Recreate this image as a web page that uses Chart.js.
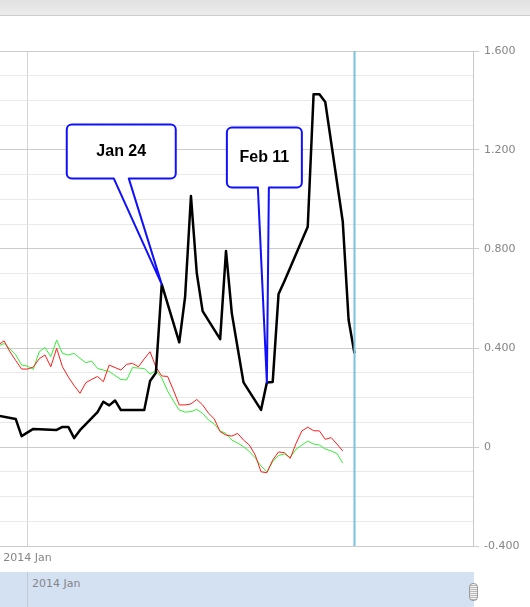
<!DOCTYPE html>
<html>
<head>
<meta charset="utf-8">
<title>Stock comparison</title>
<script src="https://cdn.jsdelivr.net/npm/chart.js@4.4.1/dist/chart.umd.min.js"></script>
<style>
  html, body { margin:0; padding:0; background:#fff; }
  #wrap { position:relative; width:530px; height:607px; overflow:hidden; font-family:"DejaVu Sans", Verdana, sans-serif; }
  #topbar { position:absolute; left:0; top:0; width:530px; height:15px; background:linear-gradient(#e1e1e1, #ececec); border-bottom:1px solid #cdcdcd; }
  #chart { position:absolute; left:0; top:0; }
  #scroll { position:absolute; left:0; top:572px; width:474px; height:35px; background:#d3e1f3; }
  #scroll .grid { position:absolute; left:27px; top:0; width:1px; height:35px; background:#c2c8d0; }
  #scroll .lbl { position:absolute; left:32px; top:5px; font-size:11px; color:#858585; }
  #scroll .handle { position:absolute; left:469px; top:11px; width:7px; height:16px; border:1px solid #9a9a9a; border-radius:4px;
    background:repeating-linear-gradient(#f2f2f2 0 1px, #b9b9b9 1px 2px); }
</style>
</head>
<body>
<div id="wrap">
  <div id="topbar"></div>
  <canvas id="chart" width="530" height="607"></canvas>
  <div id="scroll"><div class="grid"></div><div class="lbl">2014 Jan</div><div class="handle"></div></div>
</div>
<script>
// ---- data ----
const BLACK_DATES = [
  '2013-12-27','2013-12-30','2013-12-31','2014-01-02','2014-01-03','2014-01-06','2014-01-07','2014-01-08',
  '2014-01-09','2014-01-10','2014-01-13','2014-01-14','2014-01-15','2014-01-16','2014-01-17','2014-01-21',
  '2014-01-22','2014-01-23','2014-01-24','2014-01-27','2014-01-28','2014-01-29','2014-01-30','2014-01-31',
  '2014-02-03','2014-02-04','2014-02-05','2014-02-06','2014-02-07','2014-02-10','2014-02-11','2014-02-12',
  '2014-02-13','2014-02-14','2014-02-18','2014-02-19','2014-02-20','2014-02-21','2014-02-24','2014-02-25',
  '2014-02-26'
];
const BLACK_VALUES = [
  0.127, 0.113, 0.044, 0.073, 0.072, 0.069, 0.081, 0.081,
  0.036, 0.068, 0.141, 0.183, 0.168, 0.188, 0.149, 0.149,
  0.267, 0.300, 0.657, 0.423, 0.607, 1.014, 0.702, 0.549,
  0.436, 0.792, 0.540, 0.400, 0.261, 0.150, 0.261, 0.263,
  0.618, 0.670, 0.890, 1.425, 1.425, 1.394, 0.910, 0.513,
  0.379
];

// red and green are daily series starting on this date
const DAILY_START = '2013-12-27';
const RED_VALUES = [
  0.412, 0.429, 0.385, 0.349, 0.315, 0.315, 0.323, 0.356, 0.372, 0.324,
  0.399, 0.324, 0.283, 0.248, 0.217, 0.260, 0.273, 0.285, 0.264, 0.331,
  0.321, 0.311, 0.334, 0.338, 0.324, 0.356, 0.385, 0.323, 0.287, 0.285,
  0.230, 0.170, 0.170, 0.174, 0.192, 0.170, 0.137, 0.113, 0.062, 0.048,
  0.044, 0.055, 0.028, 0.008, -0.032, -0.100, -0.104, -0.053, -0.020, -0.023,
  -0.046, 0.015, 0.065, 0.080, 0.066, 0.065, 0.031, 0.038, 0.012, -0.016
];
const GREEN_VALUES = [
  0.408, 0.418, 0.396, 0.372, 0.331, 0.327, 0.314, 0.384, 0.402, 0.365,
  0.432, 0.378, 0.372, 0.378, 0.358, 0.341, 0.347, 0.317, 0.311, 0.305,
  0.289, 0.273, 0.271, 0.321, 0.319, 0.317, 0.295, 0.309, 0.279, 0.226,
  0.186, 0.149, 0.141, 0.143, 0.152, 0.136, 0.109, 0.093, 0.065, 0.055,
  0.028, 0.016, 0.001, -0.018, -0.044, -0.077, -0.100, -0.059, -0.034, -0.028,
  -0.042, -0.009, 0.008, 0.024, 0.012, 0.008, -0.008, -0.016, -0.026, -0.065
];

const Y_LABELLED = [-0.4, 0, 0.4, 0.8, 1.2, 1.6];
const X_TICK_DATE = '2014-01-01';
const X_TICK_LABEL = '2014 Jan';
const CURSOR_DATE = '2014-02-26';
const X_RANGE = [-4.7, 76.3];   // visible window, days from 2014-01-01

// ---- helpers ----
function dayIndex(s) {
  const [y, m, d] = s.split('-').map(Number);
  return (Date.UTC(y, m - 1, d) - Date.UTC(2014, 0, 1)) / 864e5;
}
const isMajor = v => Y_LABELLED.some(t => Math.abs(t - v) < 1e-6);

const blackData = BLACK_DATES.map((d, i) => ({ x: dayIndex(d), y: BLACK_VALUES[i] }));
const dailyData = vals => vals.map((v, i) => ({ x: dayIndex(DAILY_START) + i, y: v }));

// blue cursor line at the last date
const cursorPlugin = {
  id: 'cursor',
  afterDatasetsDraw(chart) {
    const { ctx, chartArea, scales } = chart;
    const px = Math.round(scales.x.getPixelForValue(dayIndex(CURSOR_DATE))) + 0.5;
    ctx.save();
    ctx.strokeStyle = '#7cc2de';
    ctx.lineWidth = 2;
    ctx.beginPath();
    ctx.moveTo(px, chartArea.top);
    ctx.lineTo(px, chartArea.bottom);
    ctx.stroke();
    ctx.restore();
  }
};

// speech-bubble labels pointing at points of the black series
const calloutPlugin = {
  id: 'callouts',
  afterDatasetsDraw(chart, args, opts) {
    const { ctx, scales: { x, y } } = chart;
    opts.items.forEach(item => {
      const i = BLACK_DATES.indexOf(item.date);
      const tx = x.getPixelForValue(dayIndex(item.date));
      const ty = y.getPixelForValue(BLACK_VALUES[i]);
      const [dl, dt, w, h] = item.box;
      const l = tx + dl, t = ty + dt, b = t + h, r = 5;
      const bl = tx + item.base[0], br = tx + item.base[1];
      ctx.save();
      ctx.beginPath();
      ctx.moveTo(l + r, t);
      ctx.lineTo(l + w - r, t);
      ctx.arcTo(l + w, t, l + w, t + r, r);
      ctx.lineTo(l + w, b - r);
      ctx.arcTo(l + w, b, l + w - r, b, r);
      ctx.lineTo(br, b);
      ctx.lineTo(tx, ty);
      ctx.lineTo(bl, b);
      ctx.lineTo(l + r, b);
      ctx.arcTo(l, b, l, b - r, r);
      ctx.lineTo(l, t + r);
      ctx.arcTo(l, t, l + r, t, r);
      ctx.closePath();
      ctx.fillStyle = '#fff';
      ctx.fill();
      ctx.lineWidth = 2;
      ctx.lineJoin = 'round';
      ctx.strokeStyle = '#1010ff';
      ctx.stroke();
      ctx.fillStyle = '#000';
      ctx.font = 'bold 16px "Liberation Sans", Arial, sans-serif';
      ctx.textAlign = 'center';
      ctx.textBaseline = 'middle';
      ctx.fillText(item.text, l + w / 2, t + h / 2);
      ctx.restore();
    });
  }
};

const tickFont = { family: '"DejaVu Sans", Verdana, sans-serif', size: 11 };

new Chart(document.getElementById('chart').getContext('2d'), {
  type: 'line',
  data: {
    datasets: [
      { data: blackData, borderColor: '#000', borderWidth: 2.5, order: 0 },
      { data: dailyData(RED_VALUES), borderColor: '#ff1a1a', borderWidth: 1, order: 1 },
      { data: dailyData(GREEN_VALUES), borderColor: '#33ee33', borderWidth: 1, order: 2 }
    ]
  },
  options: {
    responsive: false,
    animation: false,
    elements: { point: { radius: 0 }, line: { tension: 0, borderJoinStyle: 'round' } },
    layout: { padding: { top: 51, bottom: 35, left: 0, right: 0 } },
    scales: {
      x: {
        type: 'linear', min: X_RANGE[0], max: X_RANGE[1],
        afterBuildTicks: s => { s.ticks = [{ value: dayIndex(X_TICK_DATE) }]; },
        afterFit: s => { s.height = 26; },
        ticks: { callback: () => X_TICK_LABEL, color: '#858585', font: tickFont, padding: 0, maxRotation: 0, autoSkip: false },
        grid: { color: '#d4d4d4', tickLength: 6, tickColor: 'rgba(0,0,0,0)' },
        border: { display: false }
      },
      y: {
        position: 'right', min: -0.4, max: 1.6,
        afterFit: s => { s.width = 57; },
        ticks: {
          stepSize: 0.1, autoSkip: false, color: '#858585', font: tickFont, padding: 5,
          callback: v => isMajor(v) ? (Math.abs(v) < 1e-6 ? '0' : v.toFixed(3)) : ''
        },
        grid: {
          tickLength: 6,
          color: c => isMajor(c.tick.value) ? '#cccccc' : '#e9e9e9',
          tickColor: c => isMajor(c.tick.value) ? '#cccccc' : 'rgba(0,0,0,0)'
        },
        border: { color: '#c8c8c8' }
      }
    },
    plugins: {
      legend: { display: false },
      tooltip: { enabled: false },
      callouts: {
        items: [
          { date: '2014-01-24', text: 'Jan 24', box: [-95, -160, 109, 54], base: [-48, -33] },
          { date: '2014-02-11', text: 'Feb 11', box: [-40, -255, 75, 60], base: [-9, 2] }
        ]
      }
    }
  },
  plugins: [cursorPlugin, calloutPlugin]
});
</script>
</body>
</html>
